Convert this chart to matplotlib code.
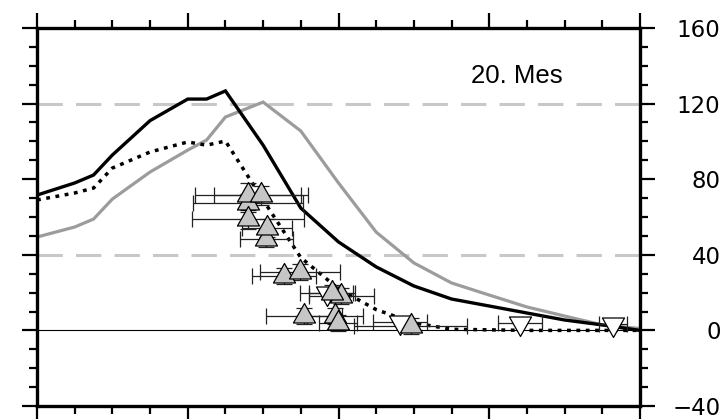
import matplotlib
matplotlib.use("Agg")
import matplotlib.pyplot as plt
from matplotlib.path import Path
from matplotlib.ticker import MultipleLocator

# model curves
x_model = [0, 1, 1.5, 2, 3, 4, 4.5, 5, 6, 7, 8, 9, 10, 11, 12, 13, 14, 15, 16]
black_line = [71.6, 78, 82.2, 92.8, 111, 122.4, 122.4, 126.7, 98, 64.7, 46.8, 33.6,
              23.5, 16.6, 12.9, 9.2, 5.5, 2.9, 0]
gray_line = [49.4, 54.7, 58.9, 69.5, 83.8, 95.4, 100.7, 112.9, 120.8, 105.5, 78, 52,
             35.7, 25.1, 18.7, 12.4, 7.6, 2.9, 1.0]
dotted_line = [69, 72.7, 75.3, 85.9, 94.4, 99.7, 98, 100.2, 69, 38.5, 22, 11,
               4.0, 0.6, 0.3, 0, 0, 0, 0]

# observations (up triangles)
obs_x = [5.60, 5.60, 5.94, 6.08, 6.10, 5.60, 6.55, 6.98, 8.07, 7.83, 7.08, 7.91, 7.99, 9.92]
obs_y = [67.4, 71.6, 71.6, 48.4, 54.2, 58.9, 28.8, 30.9, 18.2, 19.8, 7.6, 7.6, 3.9, 2.3]
obs_xerr = [1.45, 1.4, 1.25, 0.7, 0.66, 1.48, 0.85, 1.05, 0.86, 0.6, 1.0, 0.75, 0.5, 1.5]
obs_yerr = [5, 6.5, 5, 4.3, 5, 5, 4, 4, 4, 4, 4, 4, 4, 4]

# upper limits (down triangles)
lim_x = [7.69, 9.63, 12.82, 15.28]
lim_y = [19.8, 4.4, 3.9, 3.4]
lim_xerr = [0.7, 0.72, 0.58, 0.38]

y_ticks = [160, 120, 80, 40, 0, -40]

# triangles centred on their centroid, like the original plot
up_tri = Path([(0, 1), (-0.85, -0.5), (0.85, -0.5), (0, 1)],
              [Path.MOVETO, Path.LINETO, Path.LINETO, Path.CLOSEPOLY])
down_tri = Path([(0, -1), (-0.85, 0.5), (0.85, 0.5), (0, -1)],
                [Path.MOVETO, Path.LINETO, Path.LINETO, Path.CLOSEPOLY])

plt.rcParams['font.family'] = ['Liberation Sans', 'DejaVu Sans']

fig = plt.figure(figsize=(7.23, 4.19), dpi=100)
ax = fig.add_axes([37 / 723, 1 - 406 / 419, 603 / 723, 378 / 419])

# reference lines
for yy in [120, 40]:
    ax.axhline(yy, color='#c8c8c8', lw=2.2, linestyle=(0, (8.3, 4.3)), zorder=1)
ax.axhline(0, color='black', lw=0.8, zorder=1)

ax.plot(x_model, gray_line, color='#9c9c9c', lw=2.3, zorder=2, solid_joinstyle='miter')
ax.plot(x_model, black_line, color='black', lw=2.4, zorder=2, solid_joinstyle='miter')
ax.plot(x_model, dotted_line, color='black', lw=2.5, linestyle=(0, (1.1, 1.6)),
        dash_capstyle='butt', zorder=2)

ax.errorbar(obs_x, obs_y, xerr=obs_xerr, yerr=obs_yerr, fmt='none', ecolor='#222222',
            elinewidth=0.9, capsize=6, capthick=0.9, zorder=3)
ax.errorbar(lim_x, lim_y, xerr=lim_xerr, fmt='none', ecolor='#222222',
            elinewidth=0.9, capsize=6, capthick=0.9, zorder=3)

ax.plot(lim_x, lim_y, linestyle='none', marker=down_tri, markersize=18.7,
        markerfacecolor='white', markeredgecolor='black', markeredgewidth=0.9, zorder=4)
ax.plot(obs_x, obs_y, linestyle='none', marker=up_tri, markersize=18.7,
        markerfacecolor='#c6c6c6', markeredgecolor='black', markeredgewidth=0.9, zorder=5)

ax.text(12.74, 134.6, "20. Mes", fontsize=18.5, ha='center', va='center')

ax.set_xlim(0, 16)
ax.set_ylim(-40, 160)
ax.xaxis.set_major_locator(MultipleLocator(4))
ax.xaxis.set_minor_locator(MultipleLocator(1))
ax.set_yticks(y_ticks)
ax.yaxis.set_minor_locator(MultipleLocator(10))

for sp in ax.spines.values():
    sp.set_linewidth(2.4)

ax.tick_params(axis='both', which='both', direction='out', width=1.6,
               top=True, bottom=True, left=True, right=True,
               labelbottom=False, labeltop=False, labelleft=False, labelright=True)
ax.tick_params(which='major', length=11)
ax.tick_params(which='minor', length=5.5)
ax.tick_params(axis='y', which='major', pad=47, labelsize=16.5)
for lab in ax.get_yticklabels():
    lab.set_horizontalalignment('right')
    lab.set_fontfamily('DejaVu Sans')

fig.savefig("out.png", dpi=100)
